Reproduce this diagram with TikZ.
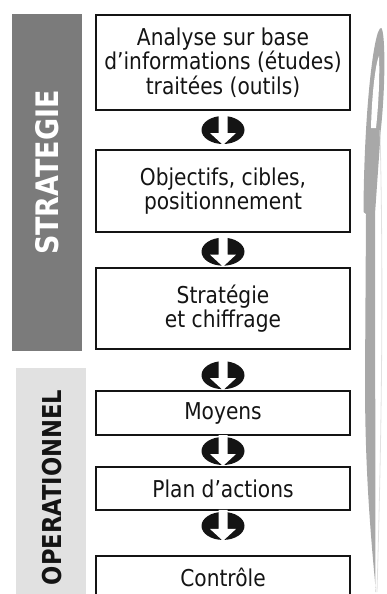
\documentclass[tikz,border=0pt]{standalone}
\usepackage{fontspec}
\setmainfont{DejaVu Sans}[FakeStretch=0.87]
\usetikzlibrary{calc}
\definecolor{stratgray}{HTML}{7B7B7B}
\definecolor{opegray}{HTML}{E1E1E1}
\definecolor{loopgray}{HTML}{A8A8A8}
\definecolor{inkblack}{HTML}{141414}
\tikzset{
    stepbox/.style={draw=inkblack, line width=2.2, minimum width=253.8, inner sep=0,
        align=center, text=inkblack, font=\fontsize{23.2}{24.5}\selectfont},
    phasebar/.style={draw=none, inner sep=0, minimum width=69.5},
    phaselabel/.style={rotate=90, inner sep=0, font=\bfseries\fontsize{#1}{#1}\selectfont},
    flowarrow/.pic={
        \fill [inkblack] (0,0) ellipse [x radius=21.5, y radius=14];
        \fill [white] (-4.5,-16) -- (4.5,-16) -- (4.5,3) -- (13,3) -- (0,15)
            -- (-13,3) -- (-4.5,3) -- cycle;
    }
}
\begin{document}
\begin{tikzpicture}[x=1pt, y=-1pt]
    \useasboundingbox (0,0) rectangle (386,594);
    % phases on the left
    \node [phasebar, fill=stratgray, minimum height=337] (stratbar) at (47,182.5) {};
    \node [phasebar, fill=opegray, minimum height=232] (opebar) at (51,484) {};
    \node [phaselabel=31, text=white] (stratlabel) at (47.5,172.5) {STRATEGIE};
    \node [phaselabel=26, text=inkblack] (opelabel) at (52,487.5) {OPERATIONNEL};
    % steps
    \node [stepbox, minimum height=94.8] (analyse) at (223,62.5)
        {Analyse sur base\\d’informations (études)\\traitées (outils)};
    \node [stepbox, minimum height=81.8] (objectifs) at (223,191)
        {Objectifs, cibles,\\positionnement};
    \node [stepbox, minimum height=80.8] (chiffrage) at (223,308.5)
        {Stratégie\\et chiffrage};
    \node [stepbox, minimum height=43.8] (moyens) at (223,413) {Moyens};
    \node [stepbox, minimum height=42.8] (plan) at (223,488.5) {Plan d’actions};
    \node [stepbox, minimum height=43] (controle) at (223,577.5) {Contrôle};
    % arrows between steps
    \pic at ($(analyse.south)!0.5!(objectifs.north)$) {flowarrow};
    \pic at ($(objectifs.south)!0.55!(chiffrage.north)$) {flowarrow};
    \pic at ($(chiffrage.south)!0.63!(moyens.north)$) {flowarrow};
    \pic at ($(moyens.south)!0.5!(plan.north)$) {flowarrow};
    \pic at ($(plan.south)!0.34!(controle.north)$) {flowarrow};
    % rising loop on the right
    \fill [loopgray] (376,592) .. controls (368,510) and (365,450) .. (365,380)
        -- (366,214) -- (363.5,212) .. controls (364,110) and (374,28) .. (381,28)
        .. controls (385,28) and (386,80) .. (381,128) -- (375,214) -- (375.5,592) -- cycle;
    \fill [white] (371,128) .. controls (372,90) and (376,62) .. (379,56)
        .. controls (380,80) and (378,110) .. (376,128) -- cycle;
    \draw [loopgray!35, line width=0.8] (380,130) .. controls (384,300) and (381,450) .. (377,592);
\end{tikzpicture}
\end{document}
